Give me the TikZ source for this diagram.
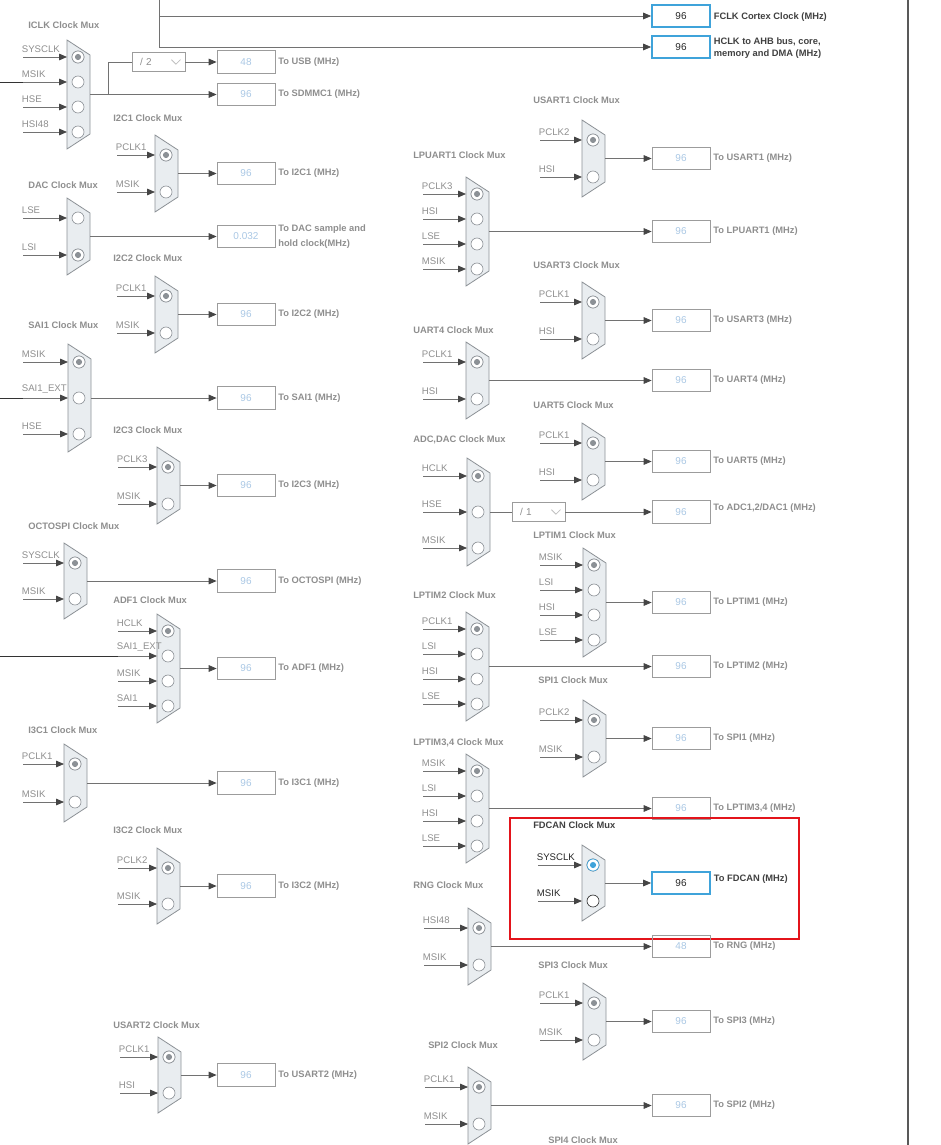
\documentclass[tikz,border=0pt]{standalone}
\usepackage{fontspec}
\setmainfont{Liberation Sans}
\usetikzlibrary{arrows.meta,calc,positioning}

\definecolor{muxfill}{HTML}{E9EDF0}
\definecolor{muxline}{HTML}{8C9196}
\definecolor{wiregray}{HTML}{727272}
\definecolor{tipgray}{HTML}{454545}
\definecolor{txtgray}{HTML}{8E8E8E}
\definecolor{valblue}{HTML}{A9C7E4}
\definecolor{boxgray}{HTML}{9C9C9C}
\definecolor{hotblue}{HTML}{3FA3DA}
\definecolor{alertred}{HTML}{E3141B}

\tikzset{
  muxbody/.style={draw=muxline, fill=muxfill, line width=0.6pt},
  muxpin/.style={circle, draw=muxline, fill=white, minimum size=9pt, inner sep=0pt, line width=0.5pt},
  selpin/.style={muxpin},
  muxdot/.style={fill=muxline},
  clkwire/.style={draw=wiregray, line width=0.6pt, -{Triangle[length=6pt,width=5pt,color=tipgray]}},
  plainwire/.style={draw=wiregray, line width=0.6pt},
  feedwire/.style={draw=black!80, line width=0.6pt},
  pinlabel/.style={font=\fontsize{7.2}{8}\selectfont, text=txtgray, inner sep=0.5pt, anchor=south west},
  muxtitle/.style={font=\bfseries\fontsize{7}{8}\selectfont, text=txtgray, anchor=west, inner sep=0pt},
  valbox/.style={draw=boxgray, minimum width=43.5pt, minimum height=17pt, inner sep=0pt,
    text=valblue, font=\fontsize{7.5}{8}\selectfont, line width=0.6pt},
  hotbox/.style={valbox, draw=hotblue, line width=1.3pt, text=black!85},
  outlabel/.style={font=\bfseries\fontsize{7}{8}\selectfont, text=txtgray, inner sep=0pt, align=left},
  divbox/.style={draw=boxgray, text width=27.75pt, inner xsep=6pt, inner ysep=0pt, minimum height=14.25pt,
    align=left, text=txtgray, font=\fontsize{7.5}{8}\selectfont, line width=0.6pt},
  chevron/.style={draw=black!25, line width=0.6pt}
}

% clock mux: name, left x, top y, inputs, pitch, first pin offset, selected pin, input labels, lead length
\newcommand{\clkmux}[9]{%
  \pgfmathsetmacro\muxh{(#4-1)*#5+2*#6}
  \draw[muxbody] (#2,#3) -- (#2+23,#3+15) -- (#2+23,#3+\muxh-15) -- (#2,#3+\muxh) -- cycle;
  \coordinate (#1-out) at (#2+23,#3+\muxh/2);
  \foreach \lbl [count=\k] in {#8} {
    \node[muxpin] (#1-p\k) at (#2+11,#3+#6+\k*#5-#5) {};
    \coordinate (#1-in\k) at (#2-#9,#3+#6+\k*#5-#5);
    \coordinate (#1-e\k) at (#2,#3+#6+\k*#5-#5);
    \draw[clkwire] (#1-in\k) -- (#1-e\k);
    \node[pinlabel] (#1-l\k) at ([xshift=-1.5pt,yshift=2.6pt]#1-in\k) {\lbl};
  }
  \node[selpin] (#1-sel) at (#1-p#7) {};
  \fill[muxdot] (#1-sel) circle (2.3pt);
}
% output box: mux, column, box name, value, label
\newcommand{\clkout}[5]{%
  \node[valbox] (#3) at (#2 |- #1-out) {#4};
  \draw[clkwire] (#1-out) -- (#3.west);
  \node[outlabel, right=2pt of #3] (#3-txt) {#5};
}

\begin{document}
\begin{tikzpicture}[x=0.75pt,y=-0.75pt]
  \useasboundingbox (0,0) rectangle (940,1145);
  \coordinate (pageleft) at (0,0);
  \coordinate (leftcol) at (246,0);
  \coordinate (rightcol) at (681,0);

  % system clock bus
  \coordinate (busTop) at (159,0);
  \coordinate (busTurn) at (159,47);
  \node[hotbox] (fclk-val) at (681,16) {96};
  \node[hotbox] (hclk-val) at (681,47) {96};
  \draw[plainwire] (busTop) -- (busTurn);
  \draw[clkwire] (busTop |- fclk-val) -- (fclk-val.west);
  \draw[clkwire] (busTurn) -- (hclk-val.west);
  \node[outlabel, text=black!75, right=2pt of fclk-val, yshift=-1pt] (fclk-txt) {FCLK Cortex Clock (MHz)};
  \node[outlabel, text=black!75, right=2pt of hclk-val, yshift=-1pt, font=\bfseries\fontsize{7}{9}\selectfont] (hclk-txt) {HCLK to AHB bus, core,\\memory and DMA (MHz)};
  \coordinate (edgeTop) at (908,0);
  \coordinate (edgeBot) at (908,1145);
  \draw[black!65, line width=1.5pt] (edgeTop) -- (edgeBot);

  % left column
  \node[muxtitle] (iclk-t) at (28,25) {ICLK Clock Mux};
  \clkmux{iclk}{67}{40}{4}{25}{17}{1}{SYSCLK,MSIK,HSE,HSI48}{44}
  \draw[feedwire] (iclk-in2 -| pageleft) -- (iclk-in2);
  \node[divbox] (usbdiv) at (158.5,62) {/ 2};
  \draw[chevron] ([xshift=-10.5pt,yshift=1.8pt]usbdiv.east) -- ++(3.4pt,-3.4pt) -- ++(3.4pt,3.4pt);
  \coordinate (iclk-tap) at ($(iclk-out)+(18,0)$);
  \draw[plainwire] (iclk-tap) |- (usbdiv.west);
  \node[valbox] (usb-val) at (leftcol |- usbdiv) {48};
  \draw[clkwire] (usbdiv.east) -- (usb-val.west);
  \node[outlabel, right=2pt of usb-val] (usb-txt) {To USB (MHz)};
  \clkout{iclk}{leftcol}{sdmmc-val}{96}{To SDMMC1 (MHz)}

  \node[muxtitle] (i2c1-t) at (113,118) {I2C1 Clock Mux};
  \clkmux{i2c1}{155}{135}{2}{37}{20}{1}{PCLK1,MSIK}{38}
  \clkout{i2c1}{leftcol}{i2c1-val}{96}{To I2C1 (MHz)}

  \node[muxtitle] (dac-t) at (28,185) {DAC Clock Mux};
  \clkmux{dac}{67}{198}{2}{37}{20}{2}{LSE,LSI}{44}
  \clkout{dac}{leftcol}{dac-val}{0.032}{To DAC sample and\\[3pt]hold clock(MHz)}

  \node[muxtitle] (i2c2-t) at (113,258) {I2C2 Clock Mux};
  \clkmux{i2c2}{155}{276}{2}{37}{20}{1}{PCLK1,MSIK}{38}
  \clkout{i2c2}{leftcol}{i2c2-val}{96}{To I2C2 (MHz)}

  \node[muxtitle] (sai1-t) at (28,325) {SAI1 Clock Mux};
  \clkmux{sai1}{68}{344}{3}{36}{18}{1}{MSIK,SAI1\_EXT,HSE}{45}
  \draw[feedwire] (sai1-in2 -| pageleft) -- (sai1-in2);
  \clkout{sai1}{leftcol}{sai1-val}{96}{To SAI1 (MHz)}

  \node[muxtitle] (i2c3-t) at (113,430) {I2C3 Clock Mux};
  \clkmux{i2c3}{157}{447}{2}{37}{20}{1}{PCLK3,MSIK}{39}
  \clkout{i2c3}{leftcol}{i2c3-val}{96}{To I2C3 (MHz)}

  \node[muxtitle] (octo-t) at (28,526) {OCTOSPI Clock Mux};
  \clkmux{octo}{64}{543}{2}{36}{20}{1}{SYSCLK,MSIK}{41}
  \clkout{octo}{leftcol}{octo-val}{96}{To OCTOSPI (MHz)}

  \node[muxtitle] (adf1-t) at (113,600) {ADF1 Clock Mux};
  \clkmux{adf1}{157}{614}{4}{25}{17}{1}{HCLK,SAI1\_EXT,MSIK,SAI1}{39}
  \draw[feedwire] (adf1-in2 -| pageleft) -- (adf1-in2);
  \clkout{adf1}{leftcol}{adf1-val}{96}{To ADF1 (MHz)}

  \node[muxtitle] (i3c1-t) at (28,730) {I3C1 Clock Mux};
  \clkmux{i3c1}{64}{744}{2}{38}{20}{1}{PCLK1,MSIK}{41}
  \clkout{i3c1}{leftcol}{i3c1-val}{96}{To I3C1 (MHz)}

  \node[muxtitle] (i3c2-t) at (113,830) {I3C2 Clock Mux};
  \clkmux{i3c2}{157}{848}{2}{36}{20}{1}{PCLK2,MSIK}{39}
  \clkout{i3c2}{leftcol}{i3c2-val}{96}{To I3C2 (MHz)}

  \node[muxtitle] (usart2-t) at (113,1025) {USART2 Clock Mux};
  \clkmux{usart2}{158}{1037}{2}{36}{20}{1}{PCLK1,HSI}{38}
  \clkout{usart2}{leftcol}{usart2-val}{96}{To USART2 (MHz)}

  % right column
  \node[muxtitle] (usart1-t) at (533,100) {USART1 Clock Mux};
  \clkmux{usart1}{582}{120}{2}{37}{20}{1}{PCLK2,HSI}{42}
  \clkout{usart1}{rightcol}{usart1-val}{96}{To USART1 (MHz)}

  \node[muxtitle] (lpuart1-t) at (413,155) {LPUART1 Clock Mux};
  \clkmux{lpuart1}{466}{177}{4}{25}{17}{1}{PCLK3,HSI,LSE,MSIK}{43}
  \clkout{lpuart1}{rightcol}{lpuart1-val}{96}{To LPUART1 (MHz)}

  \node[muxtitle] (usart3-t) at (533,265) {USART3 Clock Mux};
  \clkmux{usart3}{582}{282}{2}{37}{20}{1}{PCLK1,HSI}{42}
  \clkout{usart3}{rightcol}{usart3-val}{96}{To USART3 (MHz)}

  \node[muxtitle] (uart4-t) at (413,330) {UART4 Clock Mux};
  \clkmux{uart4}{466}{342}{2}{37}{20}{1}{PCLK1,HSI}{43}
  \clkout{uart4}{rightcol}{uart4-val}{96}{To UART4 (MHz)}

  \node[muxtitle] (uart5-t) at (533,405) {UART5 Clock Mux};
  \clkmux{uart5}{582}{423}{2}{37}{20}{1}{PCLK1,HSI}{42}
  \clkout{uart5}{rightcol}{uart5-val}{96}{To UART5 (MHz)}

  \node[muxtitle] (adc-t) at (413,440) {ADC,DAC Clock Mux};
  \clkmux{adc}{467}{458}{3}{36}{18}{1}{HCLK,HSE,MSIK}{44}
  \node[divbox] (adcdiv) at ($(adc-out)+(48.5,0)$) {/ 1};
  \draw[chevron] ([xshift=-10.5pt,yshift=1.8pt]adcdiv.east) -- ++(3.4pt,-3.4pt) -- ++(3.4pt,3.4pt);
  \draw[plainwire] (adc-out) -- (adcdiv.west);
  \node[valbox] (adc-val) at (rightcol |- adcdiv) {96};
  \draw[clkwire] (adcdiv.east) -- (adc-val.west);
  \node[outlabel, right=2pt of adc-val, yshift=3pt] (adc-txt) {To ADC1,2/DAC1 (MHz)};

  \node[muxtitle] (lptim1-t) at (533,535) {LPTIM1 Clock Mux};
  \clkmux{lptim1}{583}{548}{4}{25}{17}{1}{MSIK,LSI,HSI,LSE}{43}
  \clkout{lptim1}{rightcol}{lptim1-val}{96}{To LPTIM1 (MHz)}

  \node[muxtitle] (lptim2-t) at (413,595) {LPTIM2 Clock Mux};
  \clkmux{lptim2}{466}{612}{4}{25}{17}{1}{PCLK1,LSI,HSI,LSE}{43}
  \clkout{lptim2}{rightcol}{lptim2-val}{96}{To LPTIM2 (MHz)}

  \node[muxtitle] (spi1-t) at (538,680) {SPI1 Clock Mux};
  \clkmux{spi1}{583}{700}{2}{37}{20}{1}{PCLK2,MSIK}{43}
  \clkout{spi1}{rightcol}{spi1-val}{96}{To SPI1 (MHz)}

  \node[muxtitle] (lptim34-t) at (413,743) {LPTIM3,4 Clock Mux};
  \clkmux{lptim34}{466}{754}{4}{25}{17}{1}{MSIK,LSI,HSI,LSE}{43}
  \clkout{lptim34}{rightcol}{lptim34-val}{96}{To LPTIM3,4 (MHz)}

  \begin{scope}[pinlabel/.append style={text=black!85}, muxpin/.append style={draw=black!80},
      selpin/.style={muxpin, draw=hotblue}, muxdot/.style={fill=hotblue},
      muxtitle/.append style={text=black!75}]
    \node[muxtitle] (fdcan-t) at (533,825) {FDCAN Clock Mux};
    \clkmux{fdcan}{582}{845}{2}{36}{20}{1}{SYSCLK,MSIK}{44}
    \node[hotbox] (fdcan-val) at (rightcol |- fdcan-out) {96};
    \draw[clkwire] (fdcan-out) -- (fdcan-val.west);
    \node[outlabel, text=black!75, right=2pt of fdcan-val, yshift=3pt] (fdcan-txt) {To FDCAN (MHz)};
  \end{scope}
  \draw[alertred, line width=1.3pt] (510,818) rectangle (799,939);

  \node[muxtitle] (rng-t) at (413,885) {RNG Clock Mux};
  \clkmux{rng}{468}{908}{2}{37}{20}{1}{HSI48,MSIK}{44}
  \clkout{rng}{rightcol}{rng-val}{48}{To RNG (MHz)}

  \node[muxtitle] (spi3-t) at (538,965) {SPI3 Clock Mux};
  \clkmux{spi3}{583}{983}{2}{37}{20}{1}{PCLK1,MSIK}{43}
  \clkout{spi3}{rightcol}{spi3-val}{96}{To SPI3 (MHz)}

  \node[muxtitle] (spi2-t) at (428,1045) {SPI2 Clock Mux};
  \clkmux{spi2}{468}{1067}{2}{37}{20}{1}{PCLK1,MSIK}{43}
  \clkout{spi2}{rightcol}{spi2-val}{96}{To SPI2 (MHz)}

  \node[muxtitle] (spi4-t) at (548,1140) {SPI4 Clock Mux};
\end{tikzpicture}
\end{document}
